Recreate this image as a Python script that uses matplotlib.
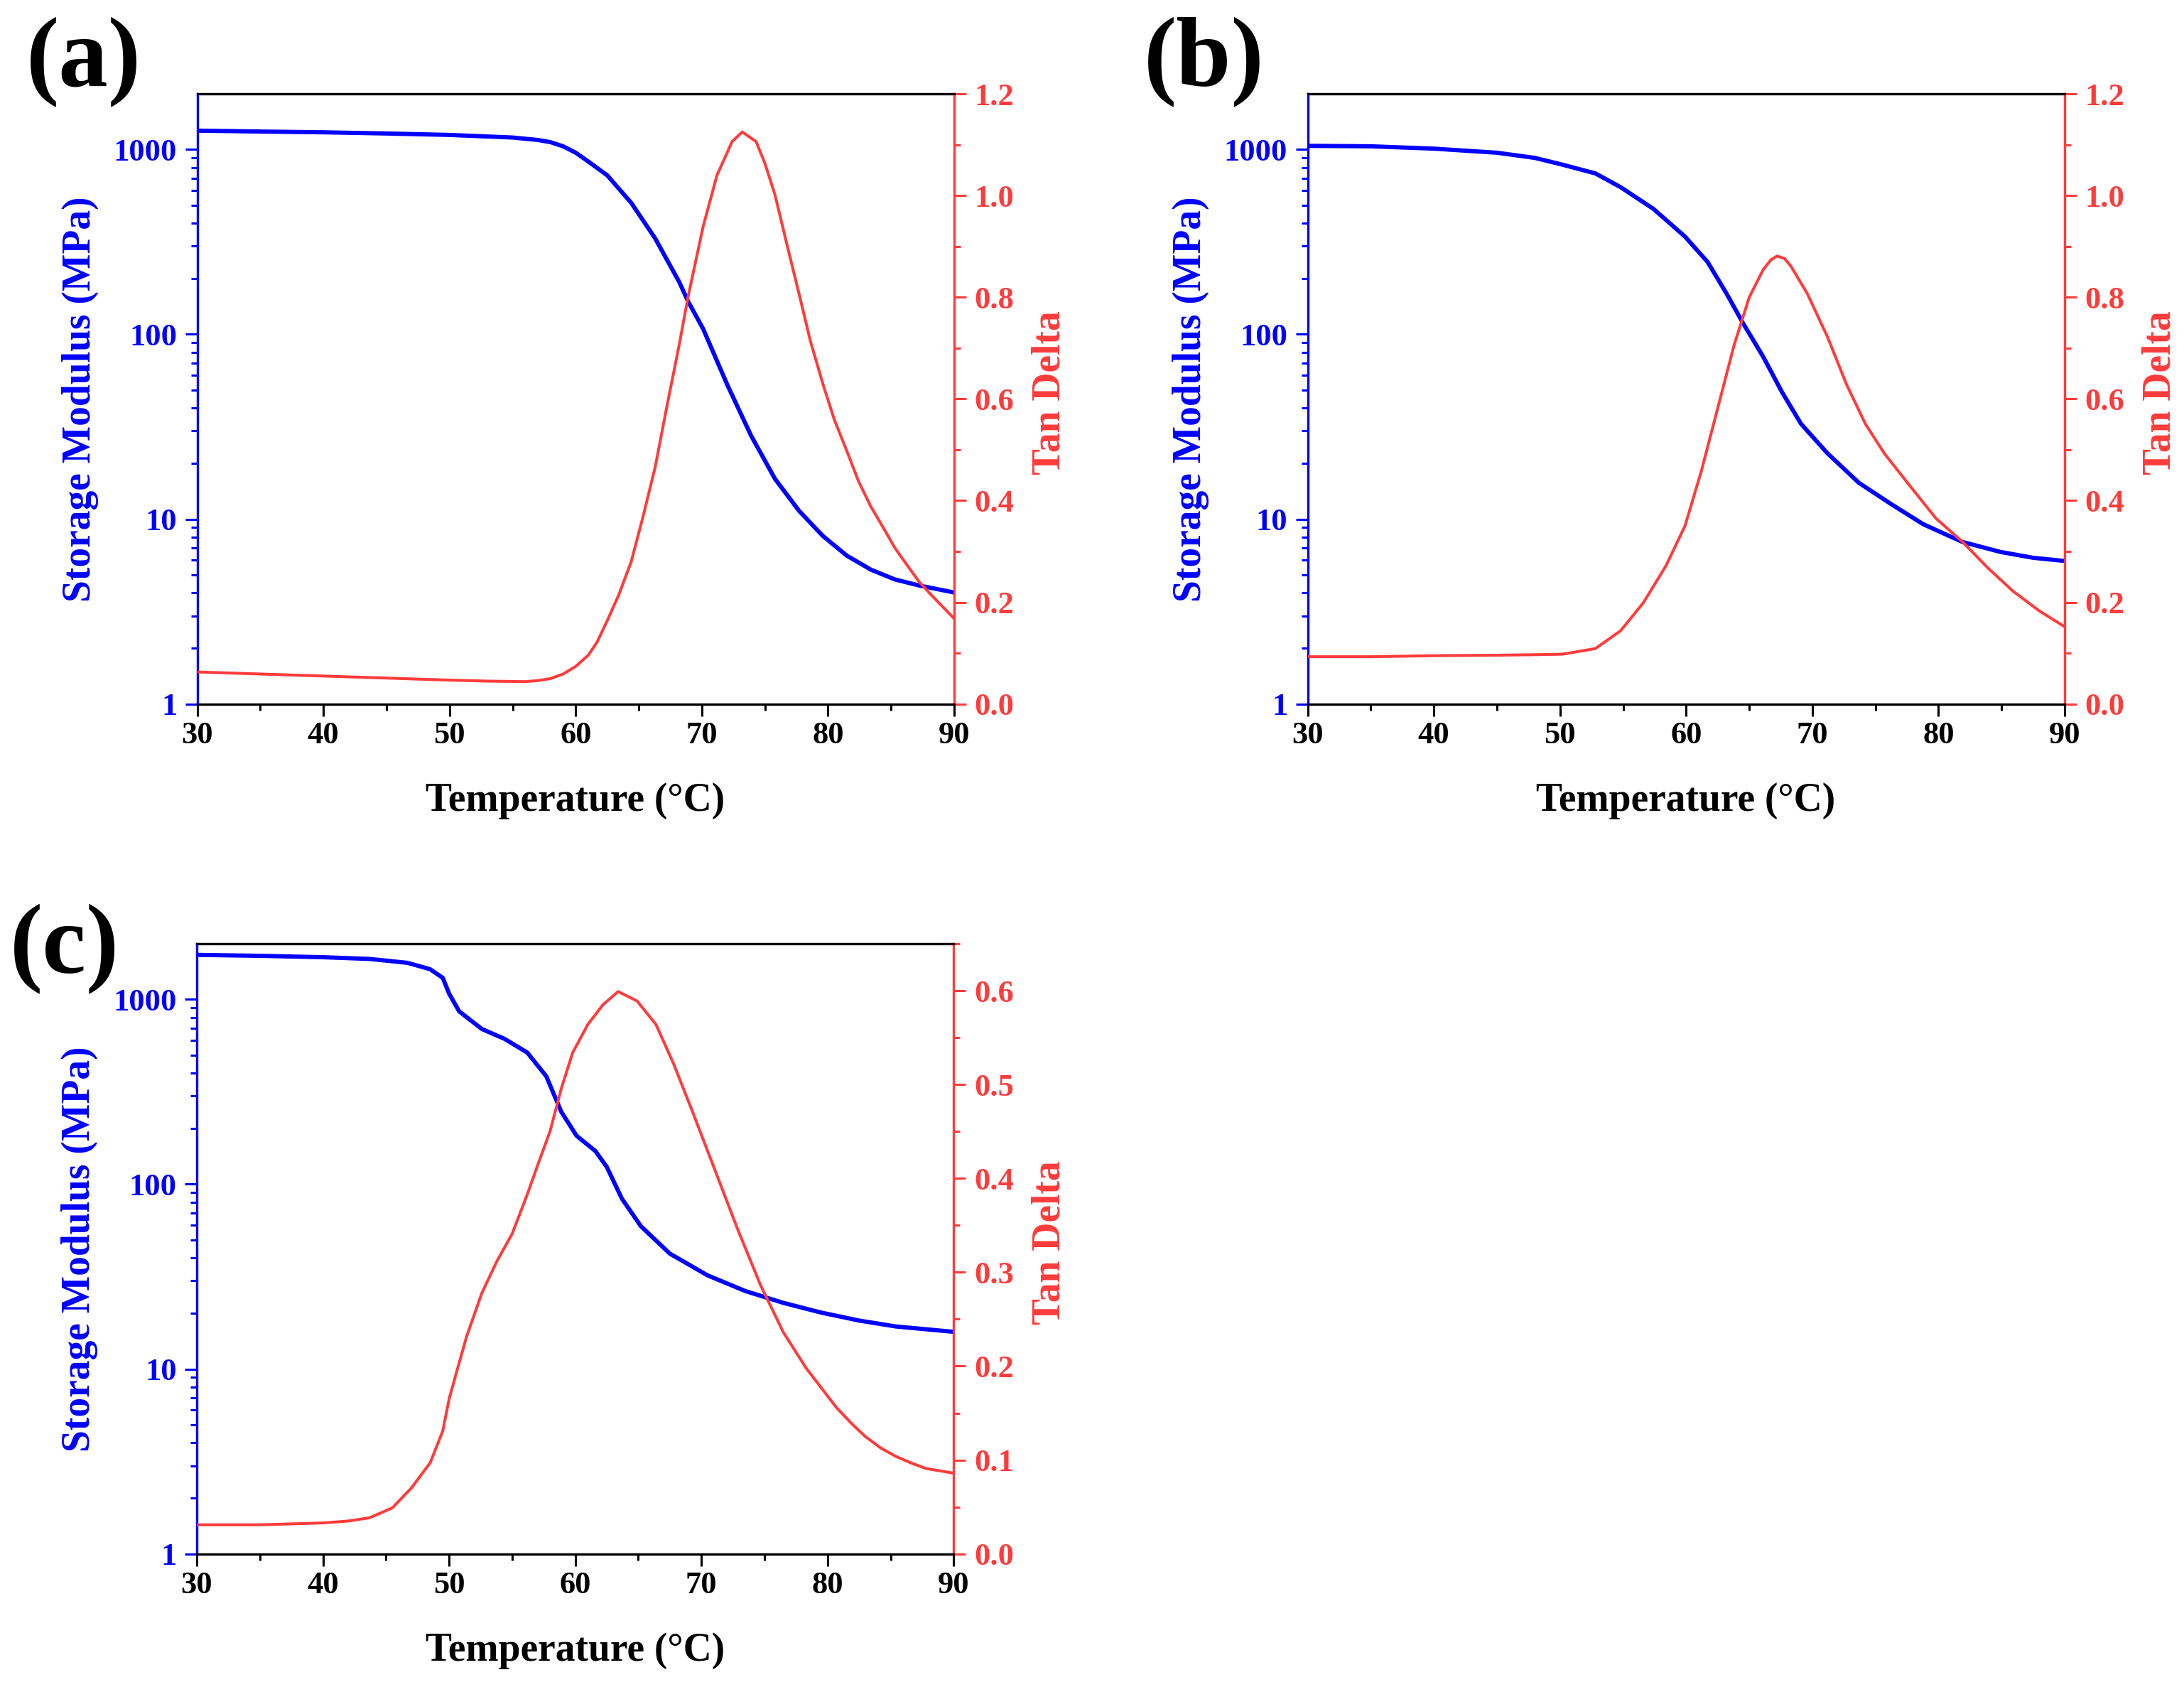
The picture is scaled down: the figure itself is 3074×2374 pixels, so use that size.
import matplotlib
matplotlib.use("Agg")
import matplotlib.pyplot as plt
from matplotlib.ticker import FixedLocator, NullFormatter, FuncFormatter, MultipleLocator

plt.rcParams['font.family'] = ['Liberation Serif', 'DejaVu Serif']
plt.rcParams['font.weight'] = 'bold'

BLUE = '#0000FF'
RED = '#FF3B3B'

# ---------------- data ----------------
# Panel (a)
a_mod_T = [30, 35, 40, 45, 50, 55, 57, 58, 59, 60, 61, 62.5, 64.4, 66.3, 68.2, 68.9, 70.1, 72.0,
           73.9, 75.8, 77.7, 79.6, 81.5, 83.4, 85.3, 87.2, 90]
a_mod_E = [1264, 1250, 1238, 1220, 1198, 1160, 1125, 1095, 1040, 960, 860, 724, 514, 330, 192,
           151, 107, 53.6, 28.3, 16.5, 11.1, 8.1, 6.34, 5.33, 4.72, 4.38, 4.01]
a_tan_T = [30, 35, 40, 45, 50, 53, 56, 57, 58, 59, 60, 61, 61.7, 62.5, 63.4, 64.4, 65.3, 66.3,
           67.2, 68.2, 68.9, 70.1, 71.2, 72.4, 73.2, 74.3, 75.0, 75.8, 76.7, 77.7, 78.6, 79.6,
           80.5, 81.5, 82.4, 83.4, 84.4, 85.3, 86.3, 87.2, 88.2, 89.1, 90]
a_tan_D = [0.063, 0.059, 0.055, 0.051, 0.047, 0.045, 0.044, 0.046, 0.050, 0.059, 0.074, 0.096,
           0.122, 0.164, 0.214, 0.280, 0.365, 0.466, 0.582, 0.706, 0.800, 0.939, 1.040, 1.106,
           1.125, 1.106, 1.063, 1.001, 0.908, 0.807, 0.714, 0.629, 0.559, 0.497, 0.439, 0.388,
           0.346, 0.307, 0.272, 0.241, 0.214, 0.191, 0.168]

# Panel (b)
b_mod_T = [30, 35, 40, 45, 48, 50.2, 52.8, 54.8, 57.4, 59.9, 61.7, 63.2, 64.5, 66.1, 67.6,
           69.1, 71.2, 73.7, 76.3, 78.8, 81.9, 84.9, 87.5, 90]
b_mod_E = [1046, 1040, 1010, 960, 900, 827, 742, 625, 477, 338, 246, 166, 115, 75.7, 48.6,
           32.8, 22.7, 15.7, 12.0, 9.38, 7.53, 6.65, 6.18, 5.94]
b_tan_T = [30, 35, 40, 45, 48, 50.2, 52.8, 54.8, 56.6, 58.4, 59.9, 61.2, 62.5, 63.8, 65.0,
           66.1, 66.7, 67.2, 67.8, 68.3, 69.6, 71.2, 72.7, 74.2, 75.7, 77.8, 79.8, 81.9, 83.9,
           85.9, 88.0, 90]
b_tan_D = [0.093, 0.093, 0.095, 0.096, 0.097, 0.098, 0.109, 0.144, 0.199, 0.272, 0.350, 0.458,
           0.582, 0.706, 0.800, 0.854, 0.873, 0.881, 0.876, 0.861, 0.807, 0.722, 0.629, 0.551,
           0.493, 0.427, 0.365, 0.319, 0.268, 0.222, 0.183, 0.152]

# Panel (c)
c_mod_T = [30, 35, 40, 43.7, 46.7, 48.5, 49.5, 50.0, 50.8, 52.6, 54.4, 56.2, 57.7, 58.9, 60.1,
           61.6, 62.5, 63.7, 65.2, 67.5, 70.5, 73.5, 76.5, 79.5, 82.5, 85.4, 90]
c_mod_E = [1740, 1720, 1690, 1654, 1576, 1455, 1307, 1074, 861, 691, 611, 515, 384, 246, 183,
           151, 124, 83.5, 59.3, 42.1, 32.1, 26.4, 22.8, 20.2, 18.3, 17.0, 15.9]
c_tan_T = [30, 35, 40, 42, 43.7, 45.5, 47.0, 48.5, 49.5, 50.0, 50.6, 51.4, 52.6, 53.8, 55.0,
           56.2, 57.1, 58.0, 58.9, 59.8, 61.0, 62.2, 63.4, 64.9, 66.4, 67.8, 69.3, 71.1, 72.9,
           74.7, 76.5, 78.3, 80.7, 81.9, 83.0, 84.2, 85.4, 86.6, 87.8, 90]
c_tan_D = [0.031, 0.031, 0.033, 0.035, 0.0385, 0.049, 0.070, 0.097, 0.131, 0.165, 0.194, 0.232,
           0.278, 0.312, 0.341, 0.383, 0.417, 0.450, 0.496, 0.534, 0.564, 0.585, 0.599, 0.589,
           0.564, 0.522, 0.471, 0.408, 0.345, 0.286, 0.236, 0.198, 0.156, 0.139, 0.125, 0.113,
           0.104, 0.097, 0.091, 0.086]

panel_labels = ['(a)', '(b)', '(c)']
x_ticks = [30, 40, 50, 60, 70, 80, 90]
left_ticks = [1, 10, 100, 1000]

# ---------------- figure ----------------
fig = plt.figure(figsize=(30.74, 23.74), dpi=100)

W, H = 3074.0, 2374.0
def rect(x0, y0, x1, y1):
    return [x0 / W, 1 - y1 / H, (x1 - x0) / W, (y1 - y0) / H]

rects = [rect(277.7, 132, 1343, 990.7),
         rect(1840.7, 132, 2906, 990.7),
         rect(277, 1328, 1342.3, 2186.7)]

panels = [
    (a_mod_T, a_mod_E, a_tan_T, a_tan_D, (0, 1.2), 0.2, 0.1),
    (b_mod_T, b_mod_E, b_tan_T, b_tan_D, (0, 1.2), 0.2, 0.1),
    (c_mod_T, c_mod_E, c_tan_T, c_tan_D, (0, 0.65), 0.1, 0.05),
]

TICK_FS = 32
LABEL_FS = 40
spine_lw = 2.3
maj_len, min_len = 12.5, 6.5
tick_w = 2.2

for i, (mT, mE, tT, tD, rlim, rmaj, rmin) in enumerate(panels):
    ax = fig.add_axes(rects[i])
    ax2 = ax.twinx()

    ax.plot(mT, mE, color=BLUE, lw=4.3, solid_joinstyle='round', zorder=3)
    ax2.plot(tT, tD, color=RED, lw=2.9, solid_joinstyle='round', zorder=3)

    ax.set_yscale('log')
    ax.set_xlim(30, 90)
    ax.set_ylim(1, 2000)
    ax2.set_ylim(*rlim)

    # x axis
    ax.xaxis.set_major_locator(FixedLocator(x_ticks))
    ax.xaxis.set_minor_locator(MultipleLocator(5))
    ax.tick_params(axis='x', which='major', direction='out', length=maj_len, width=tick_w,
                   labelsize=TICK_FS, pad=5, colors='black', top=False)
    ax.tick_params(axis='x', which='minor', direction='out', length=min_len, width=tick_w,
                   top=False)
    # left axis
    ax.yaxis.set_major_locator(FixedLocator(left_ticks))
    ax.yaxis.set_major_formatter(FuncFormatter(lambda v, p: '%d' % round(v)))
    ax.yaxis.set_minor_locator(FixedLocator([k * 10 ** e for e in range(0, 4) for k in range(2, 10)
                                             if k * 10 ** e < 2000]))
    ax.yaxis.set_minor_formatter(NullFormatter())
    ax.tick_params(axis='y', which='major', direction='out', length=maj_len, width=tick_w,
                   labelsize=TICK_FS, pad=8, colors=BLUE)
    ax.tick_params(axis='y', which='minor', direction='out', length=min_len, width=tick_w,
                   colors=BLUE)
    # right axis
    ax2.yaxis.set_major_locator(MultipleLocator(rmaj))
    ax2.yaxis.set_minor_locator(MultipleLocator(rmin))
    ax2.yaxis.set_major_formatter(FuncFormatter(lambda v, p: '{:.1f}'.format(v)))
    ax2.tick_params(axis='y', which='major', direction='out', length=maj_len, width=tick_w,
                    labelsize=TICK_FS, pad=8, colors=RED)
    ax2.tick_params(axis='y', which='minor', direction='out', length=min_len, width=tick_w,
                    colors=RED)

    for a in (ax, ax2):
        for s in a.spines.values():
            s.set_linewidth(spine_lw)
        a.spines['top'].set_color('black')
        a.spines['bottom'].set_color('black')
        a.spines['left'].set_color(BLUE)
        a.spines['right'].set_color(RED)

    for lab in ax.get_xticklabels() + ax.get_yticklabels() + ax2.get_yticklabels():
        lab.set_fontweight('bold')

    ax.set_xlabel('Temperature (°C)', fontsize=LABEL_FS, fontweight='bold', color='black',
                  va='center')
    ax.xaxis.set_label_coords(0.4997, -0.1587)
    ax.set_ylabel('Storage Modulus (MPa)', fontsize=LABEL_FS, fontweight='bold', color=BLUE,
                  va='center')
    ax.yaxis.set_label_coords(-0.1546, 0.5)
    ax2.set_ylabel('Tan Delta', fontsize=LABEL_FS, fontweight='bold', color=RED,
                   va='center', rotation=90)
    ax2.yaxis.set_label_coords(1.1267, 0.51)

# panel letters
fig.text(118 / W, 1 - 88 / H, panel_labels[0], fontsize=100, fontweight='bold',
         ha='center', va='center')
fig.text(1695 / W, 1 - 88 / H, panel_labels[1], fontsize=100, fontweight='bold',
         ha='center', va='center')
fig.text(91 / W, 1 - 1336 / H, panel_labels[2], fontsize=100, fontweight='bold',
         ha='center', va='center')

fig.savefig('out.png', dpi=100, facecolor='white')
